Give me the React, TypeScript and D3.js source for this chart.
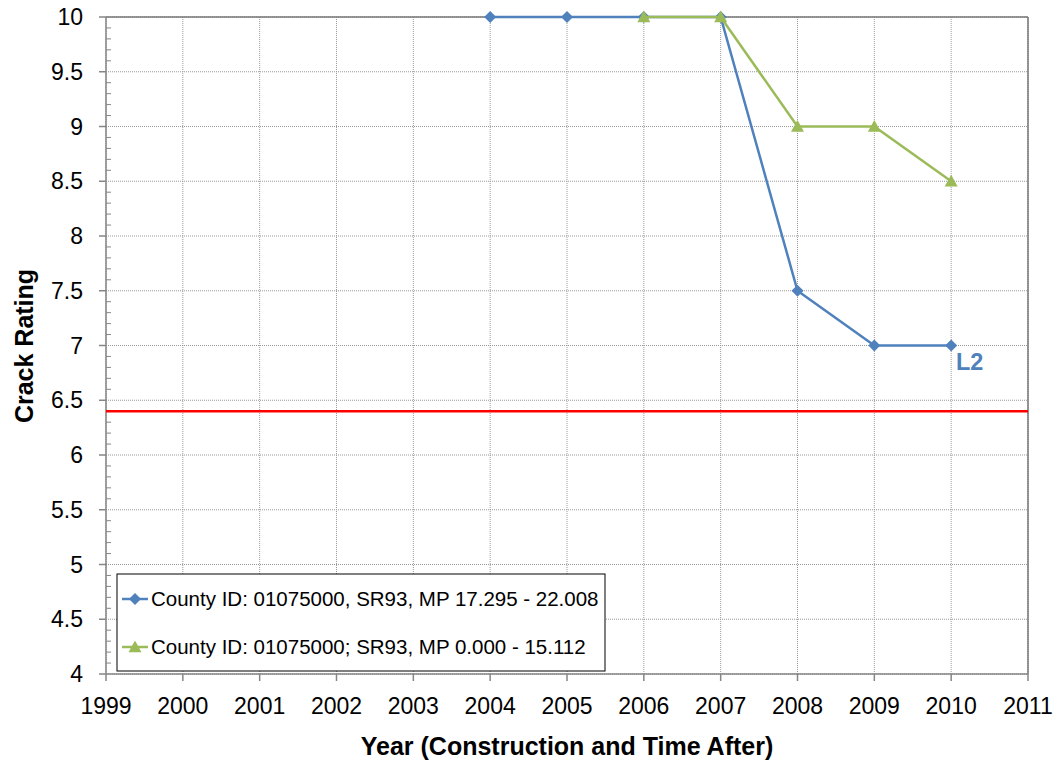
import React from "react";
import * as d3 from "d3";

const years = [1999, 2000, 2001, 2002, 2003, 2004, 2005, 2006, 2007, 2008, 2009, 2010, 2011];
const yTicks = [4, 4.5, 5, 5.5, 6, 6.5, 7, 7.5, 8, 8.5, 9, 9.5, 10];
const blueYears = [2004, 2005, 2006, 2007, 2008, 2009, 2010];
const blueValues = [10, 10, 10, 10, 7.5, 7, 7];
const greenYears = [2006, 2007, 2008, 2009, 2010];
const greenValues = [10, 10, 9, 9, 8.5];
const threshold = 6.4;
const blueLabel = "County ID: 01075000, SR93, MP 17.295 - 22.008";
const greenLabel = "County ID: 01075000; SR93, MP 0.000 - 15.112";
const xTitle = "Year (Construction and Time After)";
const yTitle = "Crack Rating";
const annotation = "L2";

const BLUE = "#4F81BD";
const GREEN = "#9BBB59";
const FONT = "'Liberation Sans', Arial, sans-serif";

export default function App() {
  const W = 1056, H = 763;
  const L = 106, R = 1028, T = 17, B = 674;
  const x = d3.scaleLinear().domain([1999, 2011]).range([L, R]);
  const y = d3.scaleLinear().domain([4, 10]).range([B, T]);
  const line = d3.line<[number, number]>().x(d => x(d[0])).y(d => y(d[1]));
  const blue: [number, number][] = blueYears.map((yr, i) => [yr, blueValues[i]]);
  const green: [number, number][] = greenYears.map((yr, i) => [yr, greenValues[i]]);
  const minorTicks = d3.range(40, 101).map(v => v / 10).filter(v => Math.abs(v * 2 - Math.round(v * 2)) > 1e-6);
  const diamond = (cx: number, cy: number, s = 6) => `M${cx},${cy - s}L${cx + s},${cy}L${cx},${cy + s}L${cx - s},${cy}Z`;
  const tri = (cx: number, cy: number, s = 6.5) => `M${cx},${cy - s}L${cx + s},${cy + s * 0.8}L${cx - s},${cy + s * 0.8}Z`;

  return (
    <svg width={W} height={H} style={{ position: "absolute", left: 0, top: 0, background: "#fff" }} fontFamily={FONT}>
      <rect x={0} y={0} width={W} height={H} fill="#fff" />
      {/* grid */}
      {yTicks.map(v => (
        <line key={"gy" + v} x1={L} x2={R} y1={y(v)} y2={y(v)} stroke="#999" strokeWidth={1} strokeDasharray="1,1" />
      ))}
      {years.map(v => (
        <line key={"gx" + v} x1={x(v)} x2={x(v)} y1={T} y2={B} stroke="#999" strokeWidth={1} strokeDasharray="1,1" />
      ))}
      {/* borders */}
      <line x1={L} x2={R} y1={T} y2={T} stroke="#777" strokeWidth={1.5} />
      <line x1={R} x2={R} y1={T} y2={B} stroke="#777" strokeWidth={1.5} />
      {/* axes */}
      <line x1={L} x2={L} y1={T} y2={B} stroke="#868686" strokeWidth={1.5} />
      <line x1={L} x2={R} y1={B} y2={B} stroke="#868686" strokeWidth={1.5} />
      {yTicks.map(v => (
        <line key={"ty" + v} x1={L - 7} x2={L} y1={y(v)} y2={y(v)} stroke="#868686" strokeWidth={1.5} />
      ))}
      {minorTicks.map(v => (
        <line key={"my" + v} x1={L} x2={L + 5} y1={y(v)} y2={y(v)} stroke="#868686" strokeWidth={1} />
      ))}
      {years.map(v => (
        <line key={"tx" + v} x1={x(v)} x2={x(v)} y1={B} y2={B + 7} stroke="#868686" strokeWidth={1.5} />
      ))}
      {/* tick labels */}
      {yTicks.map(v => (
        <text key={"ly" + v} x={L - 23} y={y(v)} dy="0.35em" textAnchor="end" fontSize={23} fill="#000">
          {v}
        </text>
      ))}
      {years.map(v => (
        <text key={"lx" + v} x={x(v)} y={706} dy="0.35em" textAnchor="middle" fontSize={23} fill="#000">
          {v}
        </text>
      ))}
      {/* titles */}
      <text x={567} y={746} dy="0.35em" textAnchor="middle" fontSize={25} fontWeight="bold">{xTitle}</text>
      <text transform={`translate(24,${346}) rotate(-90)`} dy="0.35em" textAnchor="middle" fontSize={25} fontWeight="bold">{yTitle}</text>
      {/* threshold */}
      <line x1={L} x2={R} y1={y(threshold)} y2={y(threshold)} stroke="#FF0000" strokeWidth={2.5} />
      {/* series */}
      <path d={line(blue) || ""} fill="none" stroke={BLUE} strokeWidth={2.5} />
      {blue.map((d, i) => (
        <path key={"bm" + i} d={diamond(x(d[0]), y(d[1]))} fill={BLUE} />
      ))}
      <path d={line(green) || ""} fill="none" stroke={GREEN} strokeWidth={2.5} />
      {green.map((d, i) => (
        <path key={"gm" + i} d={tri(x(d[0]), y(d[1]))} fill={GREEN} />
      ))}
      <text x={956} y={362} dy="0.35em" fontSize={23.5} fontWeight="bold" fill={BLUE}>{annotation}</text>
      {/* legend */}
      <rect x={117} y={574} width={488} height={97} fill="#fff" stroke="#000" strokeWidth={1} />
      <line x1={122} x2={148} y1={599} y2={599} stroke={BLUE} strokeWidth={2.5} />
      <path d={diamond(135, 599)} fill={BLUE} />
      <text x={151} y={599} dy="0.35em" fontSize={20.5} fill="#000">{blueLabel}</text>
      <line x1={122} x2={148} y1={647} y2={647} stroke={GREEN} strokeWidth={2.5} />
      <path d={tri(135, 647)} fill={GREEN} />
      <text x={151} y={647} dy="0.35em" fontSize={20.5} fill="#000">{greenLabel}</text>
    </svg>
  );
}
